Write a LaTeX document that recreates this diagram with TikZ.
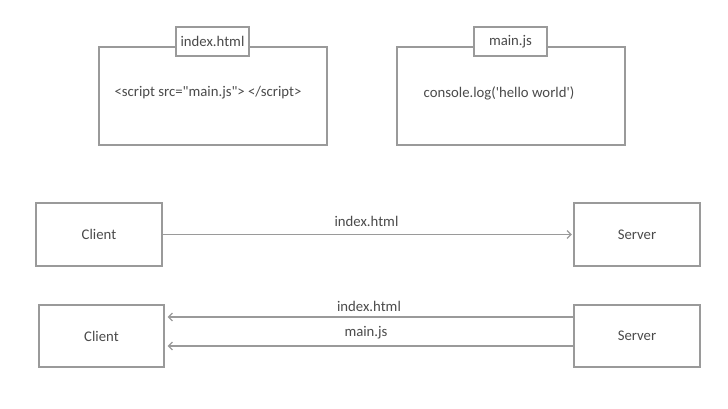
\documentclass[tikz,border=0pt]{standalone}
\usepackage{fontspec}
\setmainfont{Carlito}
\usetikzlibrary{arrows.meta,calc}
\definecolor{linec}{HTML}{9A9A9A}
\definecolor{textc}{HTML}{4A4A4A}
\tikzset{
  every node/.style={font=\fontsize{14.8}{17}\selectfont, text=textc},
  box/.style={draw=linec, line width=1.2bp, rectangle, inner sep=0pt},
  tabbox/.style={draw=linec, line width=1.2bp, fill=white, rectangle, inner sep=0pt},
  arr/.style={draw=linec, line width=1.2bp, -{Straight Barb[length=4bp,width=8bp]}},
  plain/.style={inner sep=0pt},
}
\begin{document}
\begin{tikzpicture}[x=1bp,y=-1bp]
\useasboundingbox (0,0) rectangle (728,408);
% file boxes
\node[box, minimum width=228bp, minimum height=98bp] (f1) at (213,96) {};
\node[tabbox, minimum width=73bp, minimum height=29bp] (t1) at (212.5,41.5) {index.html};
\node[plain] (c1) at (208,93) {<script src=\textquotedbl main.js\textquotedbl> </script>};
\node[box, minimum width=228bp, minimum height=98bp] (f2) at (511,96) {};
\node[tabbox, minimum width=73bp, minimum height=29bp] (t2) at (510.5,41.5) {main.js};
\node[plain] (c2) at (499,93) {console.log(\textquotesingle hello world\textquotesingle)};
% first row
\node[box, minimum width=126bp, minimum height=63bp] (cl1) at (99,234.5) {Client};
\node[box, minimum width=126bp, minimum height=63bp] (sv1) at (637,234.5) {Server};
\draw[arr, shorten >=1.5bp] (cl1.east) -- (sv1.west);
\node[plain] (l1) at (366.5,221) {index.html};
% second row
\node[box, minimum width=125bp, minimum height=62bp] (cl2) at (101.5,336) {Client};
\node[box, minimum width=126bp, minimum height=62bp] (sv2) at (637,336) {Server};
\draw[arr, shorten >=3bp] ($(sv2.west)+(0,-19)$) -- ($(cl2.east)+(0,-19)$);
\draw[arr, shorten >=3bp] ($(sv2.west)+(0,10)$) -- ($(cl2.east)+(0,10)$);
\node[plain] (l2) at (369,306) {index.html};
\node[plain] (l3) at (366,333) {main.js};
\end{tikzpicture}
\end{document}
